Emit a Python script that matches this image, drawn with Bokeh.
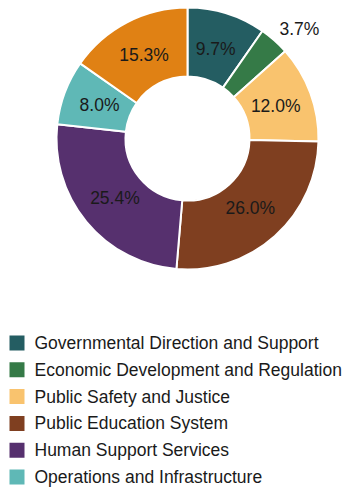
import math
from bokeh.plotting import figure
from bokeh.models import Range1d, ColumnDataSource
from bokeh.core.properties import value
from bokeh.embed import file_html
from bokeh.resources import INLINE

categories = [
    "Governmental Direction and Support",
    "Economic Development and Regulation",
    "Public Safety and Justice",
    "Public Education System",
    "Human Support Services",
    "Operations and Infrastructure",
    "Financing and Other",
]
shares = [9.7, 3.7, 12.0, 26.0, 25.4, 8.0, 15.3]
colors = ["#245d62", "#357a47", "#f9c36e", "#7f3f20", "#56306e", "#5fb8b6", "#e08114"]
labels = ["9.7%", "3.7%", "12.0%", "26.0%", "25.4%", "8.0%", "15.3%"]

W, H = 347, 487
cx, cy = 187, H - 138
r_out, r_in = 131, 62

p = figure(width=W, height=H, output_backend="svg", toolbar_location=None,
           x_range=Range1d(0, W), y_range=Range1d(0, H), min_border=0)
p.axis.visible = False
p.grid.visible = False
p.outline_line_color = None
p.background_fill_color = "white"

total = sum(shares)
starts, ends, mids = [], [], []
cum = 0.0
for s in shares:
    a0 = math.pi / 2 - 2 * math.pi * cum / total
    cum += s
    a1 = math.pi / 2 - 2 * math.pi * cum / total
    starts.append(a0); ends.append(a1); mids.append((a0 + a1) / 2)

p.annular_wedge(x=cx, y=cy, inner_radius=r_in, outer_radius=r_out,
                start_angle="a0", end_angle="a1", direction="clock",
                fill_color="c", line_color="white", line_width=2,
                source=ColumnDataSource(dict(a0=starts, a1=ends, c=colors)))

ix, iy, it = [], [], []
ox, oy, ot = [], [], []
for i, s in enumerate(shares):
    if s < 5:
        ang = mids[i] + math.radians(1.5)
        ox.append(cx + 143 * math.cos(ang)); oy.append(cy + 143 * math.sin(ang)); ot.append(labels[i])
    else:
        ix.append(cx + 94 * math.cos(mids[i])); iy.append(cy + 94 * math.sin(mids[i])); it.append(labels[i])

p.text(x="x", y="y", text="t", source=ColumnDataSource(dict(x=ix, y=iy, t=it)),
       text_align="center", text_baseline="middle",
       text_font=value("Liberation Sans"), text_font_size="17.5px", text_color="#1a1a1a")
p.text(x="x", y="y", text="t", source=ColumnDataSource(dict(x=ox, y=oy, t=ot)),
       text_align="left", text_baseline="middle",
       text_font=value("Liberation Sans"), text_font_size="17.5px", text_color="#1a1a1a")

# legend (first six entries fit in the window, like the reference)
n_show = 6
top0, pitch = 342.5, 26.8
ly = [H - (top0 + i * pitch) for i in range(n_show)]
leg = ColumnDataSource(dict(y=ly, c=colors[:n_show], t=categories[:n_show],
                            xs=[16.5] * n_show, xt=[34] * n_show))
p.rect(x="xs", y="y", width=15, height=15, width_units="screen", height_units="screen",
       fill_color="c", line_color=None, source=leg)
p.text(x="xt", y="y", text="t", source=leg, text_align="left", text_baseline="middle",
       text_font=value("Liberation Sans"), text_font_size="17.5px", text_color="#1a1a1a")

open("out.html", "w").write(file_html(p, INLINE))
